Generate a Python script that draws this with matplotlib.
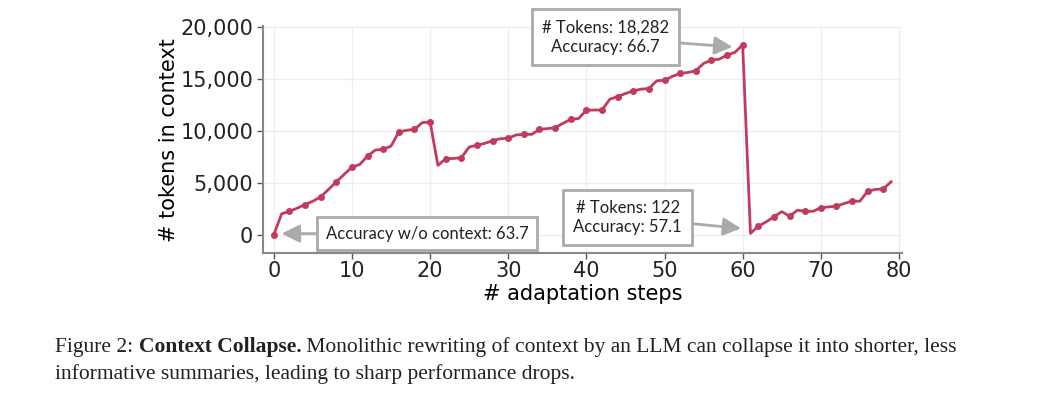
import matplotlib
matplotlib.use("Agg")
import matplotlib.pyplot as plt
from matplotlib.ticker import FuncFormatter

steps = list(range(80))
tokens = [0, 2000, 2250, 2550, 2900, 3220, 3640, 4350, 5090, 5800,
          6500, 6760, 7570, 8150, 8210, 8530, 9890, 10050, 10140, 10790,
          10850, 6670, 7310, 7340, 7410, 8440, 8600, 8790, 9050, 9240,
          9280, 9600, 9660, 9660, 10140, 10210, 10300, 10720, 11110, 11180,
          11980, 12000, 12010, 13040, 13300, 13590, 13850, 14010, 14070, 14810,
          14880, 15240, 15530, 15620, 15780, 16490, 16810, 16900, 17300, 17550,
          18282, 122, 800, 1230, 1710, 2220, 1770, 2350, 2250, 2250,
          2580, 2670, 2740, 3000, 3220, 3220, 4190, 4350, 4410, 5090]
xticks = [0, 10, 20, 30, 40, 50, 60, 70, 80]
yticks = [0, 5000, 10000, 15000, 20000]

ann_base = "Accuracy w/o context: 63.7"
ann_peak = "# Tokens: 18,282\nAccuracy: 66.7"
ann_drop = "# Tokens: 122\nAccuracy: 57.1"
peak_step, drop_step = 60, 61

caption1_a = "Figure 2: "
caption1_b = "Context Collapse."
caption1_c = " Monolithic rewriting of context by an LLM can collapse it into shorter, less"
caption2 = "informative summaries, leading to sharp performance drops."

fig = plt.figure(figsize=(10.6, 3.95), dpi=100)
ax = fig.add_axes([0.248, 0.36, 0.603, 0.573])

color = "#C23B5E"
ax.plot(steps, tokens, color=color, lw=2, marker="o", ms=4, markevery=2, zorder=3)

ax.set_xlim(-1.4, 80.4)
ax.set_ylim(-1750, 20050)
ax.set_xticks(xticks)
ax.set_yticks(yticks)
ax.yaxis.set_major_formatter(FuncFormatter(lambda v, p: f"{int(v):,}"))
ax.tick_params(axis="both", labelsize=15, labelcolor="#222222", color="#555555",
               length=4, width=1)
ax.tick_params(axis="y", pad=3)
ax.tick_params(axis="x", pad=2)
ax.grid(True, color="#eeeeee", lw=0.9)
ax.set_axisbelow(True)
for s in ["top", "right"]:
    ax.spines[s].set_visible(False)
for s in ["left", "bottom"]:
    ax.spines[s].set_color("#888888")
    ax.spines[s].set_linewidth(1.5)
ax.set_xlabel("# adaptation steps", fontsize=15, labelpad=2)
ax.set_ylabel("# tokens in context", fontsize=15, labelpad=1)

box = dict(boxstyle="square,pad=0.5", fc="white", ec="#aaaaaa", lw=2)
box2 = dict(boxstyle="square,pad=0.6", fc="white", ec="#aaaaaa", lw=2)
arrow = dict(arrowstyle="-|>,head_length=0.9,head_width=0.45", color="#aaaaaa", lw=2,
             shrinkA=0, shrinkB=0)
afont = dict(fontsize=12, family=["Lato", "DejaVu Sans"], color="#222222")

ax.annotate(ann_base, xy=(1.0, 100), xytext=(19.6, 100), ha="center", va="center",
            bbox=box, arrowprops=arrow, **afont)
ax.annotate(ann_peak, xy=(peak_step - 1.3, tokens[peak_step] - 200),
            xytext=(42.4, 19000), ha="center", va="center", linespacing=1.3,
            bbox=box2, arrowprops=arrow, **afont)
ax.annotate(ann_drop, xy=(drop_step - 1.2, 600), xytext=(45.3, 1650),
            ha="center", va="center", linespacing=1.3,
            bbox=box2, arrowprops=arrow, **afont)

serif = ["Liberation Serif", "DejaVu Serif"]
cs = 15.5
y1, y2 = 0.108, 0.04
t1 = fig.text(0.052, y1, caption1_a, fontsize=cs, family=serif, color="#222222")
fig.canvas.draw()
r = fig.canvas.get_renderer()
bb = t1.get_window_extent(r)
x = bb.x1 / fig.bbox.width
t2 = fig.text(x, y1, caption1_b, fontsize=cs, family=serif, weight="bold", color="#222222")
bb2 = t2.get_window_extent(r)
x2 = bb2.x1 / fig.bbox.width
fig.text(x2, y1, caption1_c, fontsize=cs, family=serif, color="#222222")
fig.text(0.052, y2, caption2, fontsize=cs, family=serif, color="#222222")

fig.savefig("out.png", dpi=100)
